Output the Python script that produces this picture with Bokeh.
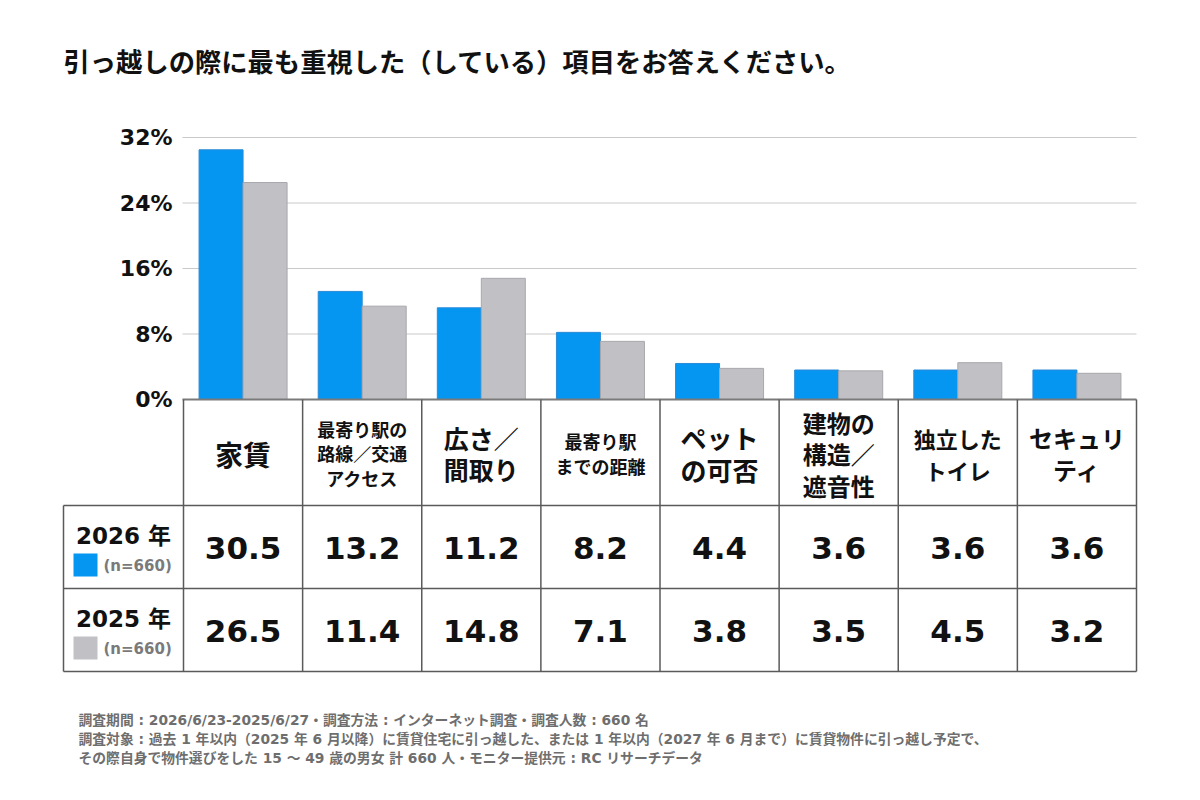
from bokeh.plotting import figure
from bokeh.models import Range1d, ColumnDataSource
from bokeh.core.properties import value
from bokeh.embed import file_html
from bokeh.resources import INLINE

# ---- data -------------------------------------------------------------
title = "引っ越しの際に最も重視した（している）項目をお答えください。"
categories = [
    "家賃",
    "最寄り駅の\n路線／交通\nアクセス",
    "広さ／\n間取り",
    "最寄り駅\nまでの距離",
    "ペット\nの可否",
    "建物の\n構造／\n遮音性",
    "独立した\nトイレ",
    "セキュリ\nティ",
]
series_names = ["2026 年", "2025 年"]
series_n = ["(n=660)", "(n=660)"]
values_2026 = [30.5, 13.2, 11.2, 8.2, 4.4, 3.6, 3.6, 3.6]
values_2025 = [26.5, 11.4, 14.8, 7.1, 3.8, 3.5, 4.5, 3.2]
tick_values = [0, 8, 16, 24, 32]
tick_labels = ["0%", "8%", "16%", "24%", "32%"]
notes = [
    "調査期間 : 2026/6/23-2025/6/27・調査方法 : インターネット調査・調査人数 : 660 名",
    "調査対象 : 過去 1 年以内（2025 年 6 月以降）に賃貸住宅に引っ越した、または 1 年以内（2027 年 6 月まで）に賃貸物件に引っ越し予定で、",
    "その際自身で物件選びをした 15 ～ 49 歳の男女 計 660 人・モニター提供元 : RC リサーチデータ",
]

# ---- styles -----------------------------------------------------------
COLORS = ["#0596f2", "#c1c0c5"]
EDGE = ["#2b8ad6", "#a8a7ac"]
FONT = value("DejaVu Sans, Noto Sans CJK JP")
JP = value("Noto Sans CJK JP")
LABEL_SIZES = ["28px", "18px", "25px", "18px", "26px", "24px", "22px", "24px"]
LABEL_LH = [1.0, 0.94, 0.88, 0.99, 0.85, 0.90, 1.0, 0.92]

W, H = 1200, 800
# layout of the chart area (pixels)
COL_LEFT, COL_RIGHT = 183, 1136
NCOL = len(categories)
COL_W = (COL_RIGHT - COL_LEFT) / NCOL
ZERO_Y, TOP_Y, TOP_PCT = 399, 137, 32
PX_PER_PCT = (ZERO_Y - TOP_Y) / TOP_PCT
BAR_PX = 44

p = figure(width=W, height=H, output_backend="svg", toolbar_location=None,
           x_range=Range1d(0, W), y_range=Range1d(H, 0),
           x_axis_location=None, y_axis_location=None,
           min_border=0, outline_line_color=None,
           background_fill_color="white", border_fill_color="white")
p.grid.visible = False

# column units horizontally, percent vertically
p.extra_x_ranges = {"col": Range1d(-COL_LEFT / COL_W, (W - COL_LEFT) / COL_W)}
p.extra_y_ranges = {"pct": Range1d(-(H - ZERO_Y) / PX_PER_PCT, ZERO_Y / PX_PER_PCT)}

# ---- gridlines and value-axis labels ----------------------------------
grid_src = ColumnDataSource(dict(y=tick_values[1:]))
p.segment(x0=182, x1=COL_RIGHT, y0="y", y1="y", source=grid_src,
          y_range_name="pct", line_color="#c9c9c9", line_width=1)
p.text(x=172, y=tick_values, text=tick_labels, y_range_name="pct",
       text_font=FONT, text_font_style="bold", text_font_size="22px",
       text_align="right", text_baseline="middle", text_color="#111111")

# ---- bars -------------------------------------------------------------
idx = [i + 0.5 for i in range(NCOL)]
off = (BAR_PX / 2) / COL_W
bw = BAR_PX / COL_W
for k, vals in enumerate([values_2026, values_2025]):
    xs = [c + (off if k else -off) for c in idx]
    p.vbar(x=xs, top=vals, bottom=0, width=bw, x_range_name="col",
           y_range_name="pct", fill_color=COLORS[k], line_color=EDGE[k],
           line_width=1)

# ---- table ------------------------------------------------------------
T_TOP, T_H1, T_R1, T_R2 = ZERO_Y, 505, 588, 671
LEFT_X = 63
LINE = "#5a5a5a"
# horizontal rules
p.segment(x0=[182], x1=[COL_RIGHT], y0=[T_TOP], y1=[T_TOP], line_color="#7a7a7a", line_width=2)
p.segment(x0=[LEFT_X] * 3, x1=[COL_RIGHT] * 3, y0=[T_H1, T_R1, T_R2],
          y1=[T_H1, T_R1, T_R2], line_color=LINE, line_width=1.5)
# vertical rules
p.segment(x0=[i for i in range(NCOL + 1)], x1=[i for i in range(NCOL + 1)],
          y0=[T_TOP] * (NCOL + 1), y1=[T_R2] * (NCOL + 1),
          x_range_name="col", line_color=LINE, line_width=1.5)
p.segment(x0=[LEFT_X], x1=[LEFT_X], y0=[T_H1], y1=[T_R2], line_color=LINE, line_width=1.5)

# category headers
p.text(x=idx, y=[453] * NCOL, text=categories, x_range_name="col",
       text_font=JP, text_font_style="bold", text_font_size=LABEL_SIZES,
       text_line_height=LABEL_LH, text_align="center", text_baseline="middle",
       text_color="#111111")

# values
row_y = [(T_H1 + T_R1) / 2 + 1, (T_R1 + T_R2) / 2 + 1]
for k, vals in enumerate([values_2026, values_2025]):
    p.text(x=idx, y=[row_y[k]] * NCOL, text=[f"{v:.1f}" for v in vals],
           x_range_name="col", text_font=FONT, text_font_style="bold",
           text_font_size="31px", text_align="center", text_baseline="middle",
           text_color="#111111")

# row headers with colour keys
for k in range(2):
    top = T_H1 if k == 0 else T_R1
    p.text(x=[123], y=[top + 30], text=[series_names[k]], text_font=FONT,
           text_font_style="bold", text_font_size="23px", text_align="center",
           text_baseline="middle", text_color="#111111")
    p.quad(left=[73], right=[97], top=[top + 48], bottom=[top + 71],
           fill_color=COLORS[k], line_color=None)
    p.text(x=[103], y=[top + 60], text=[series_n[k]], text_font=FONT,
           text_font_style="bold", text_font_size="15px", text_align="left",
           text_baseline="middle", text_color="#7a7a7a")

# ---- title and notes --------------------------------------------------
p.text(x=[63], y=[60], text=[title], text_font=JP, text_font_style="bold",
       text_font_size="26.3px", text_align="left", text_baseline="middle",
       text_color="#111111")
p.text(x=[78] * 3, y=[719, 738, 757], text=notes, text_font=FONT,
       text_font_style="bold", text_font_size="13.8px", text_align="left",
       text_baseline="middle", text_color="#6e6e6e")

open("out.html", "w").write(file_html(p, INLINE))
